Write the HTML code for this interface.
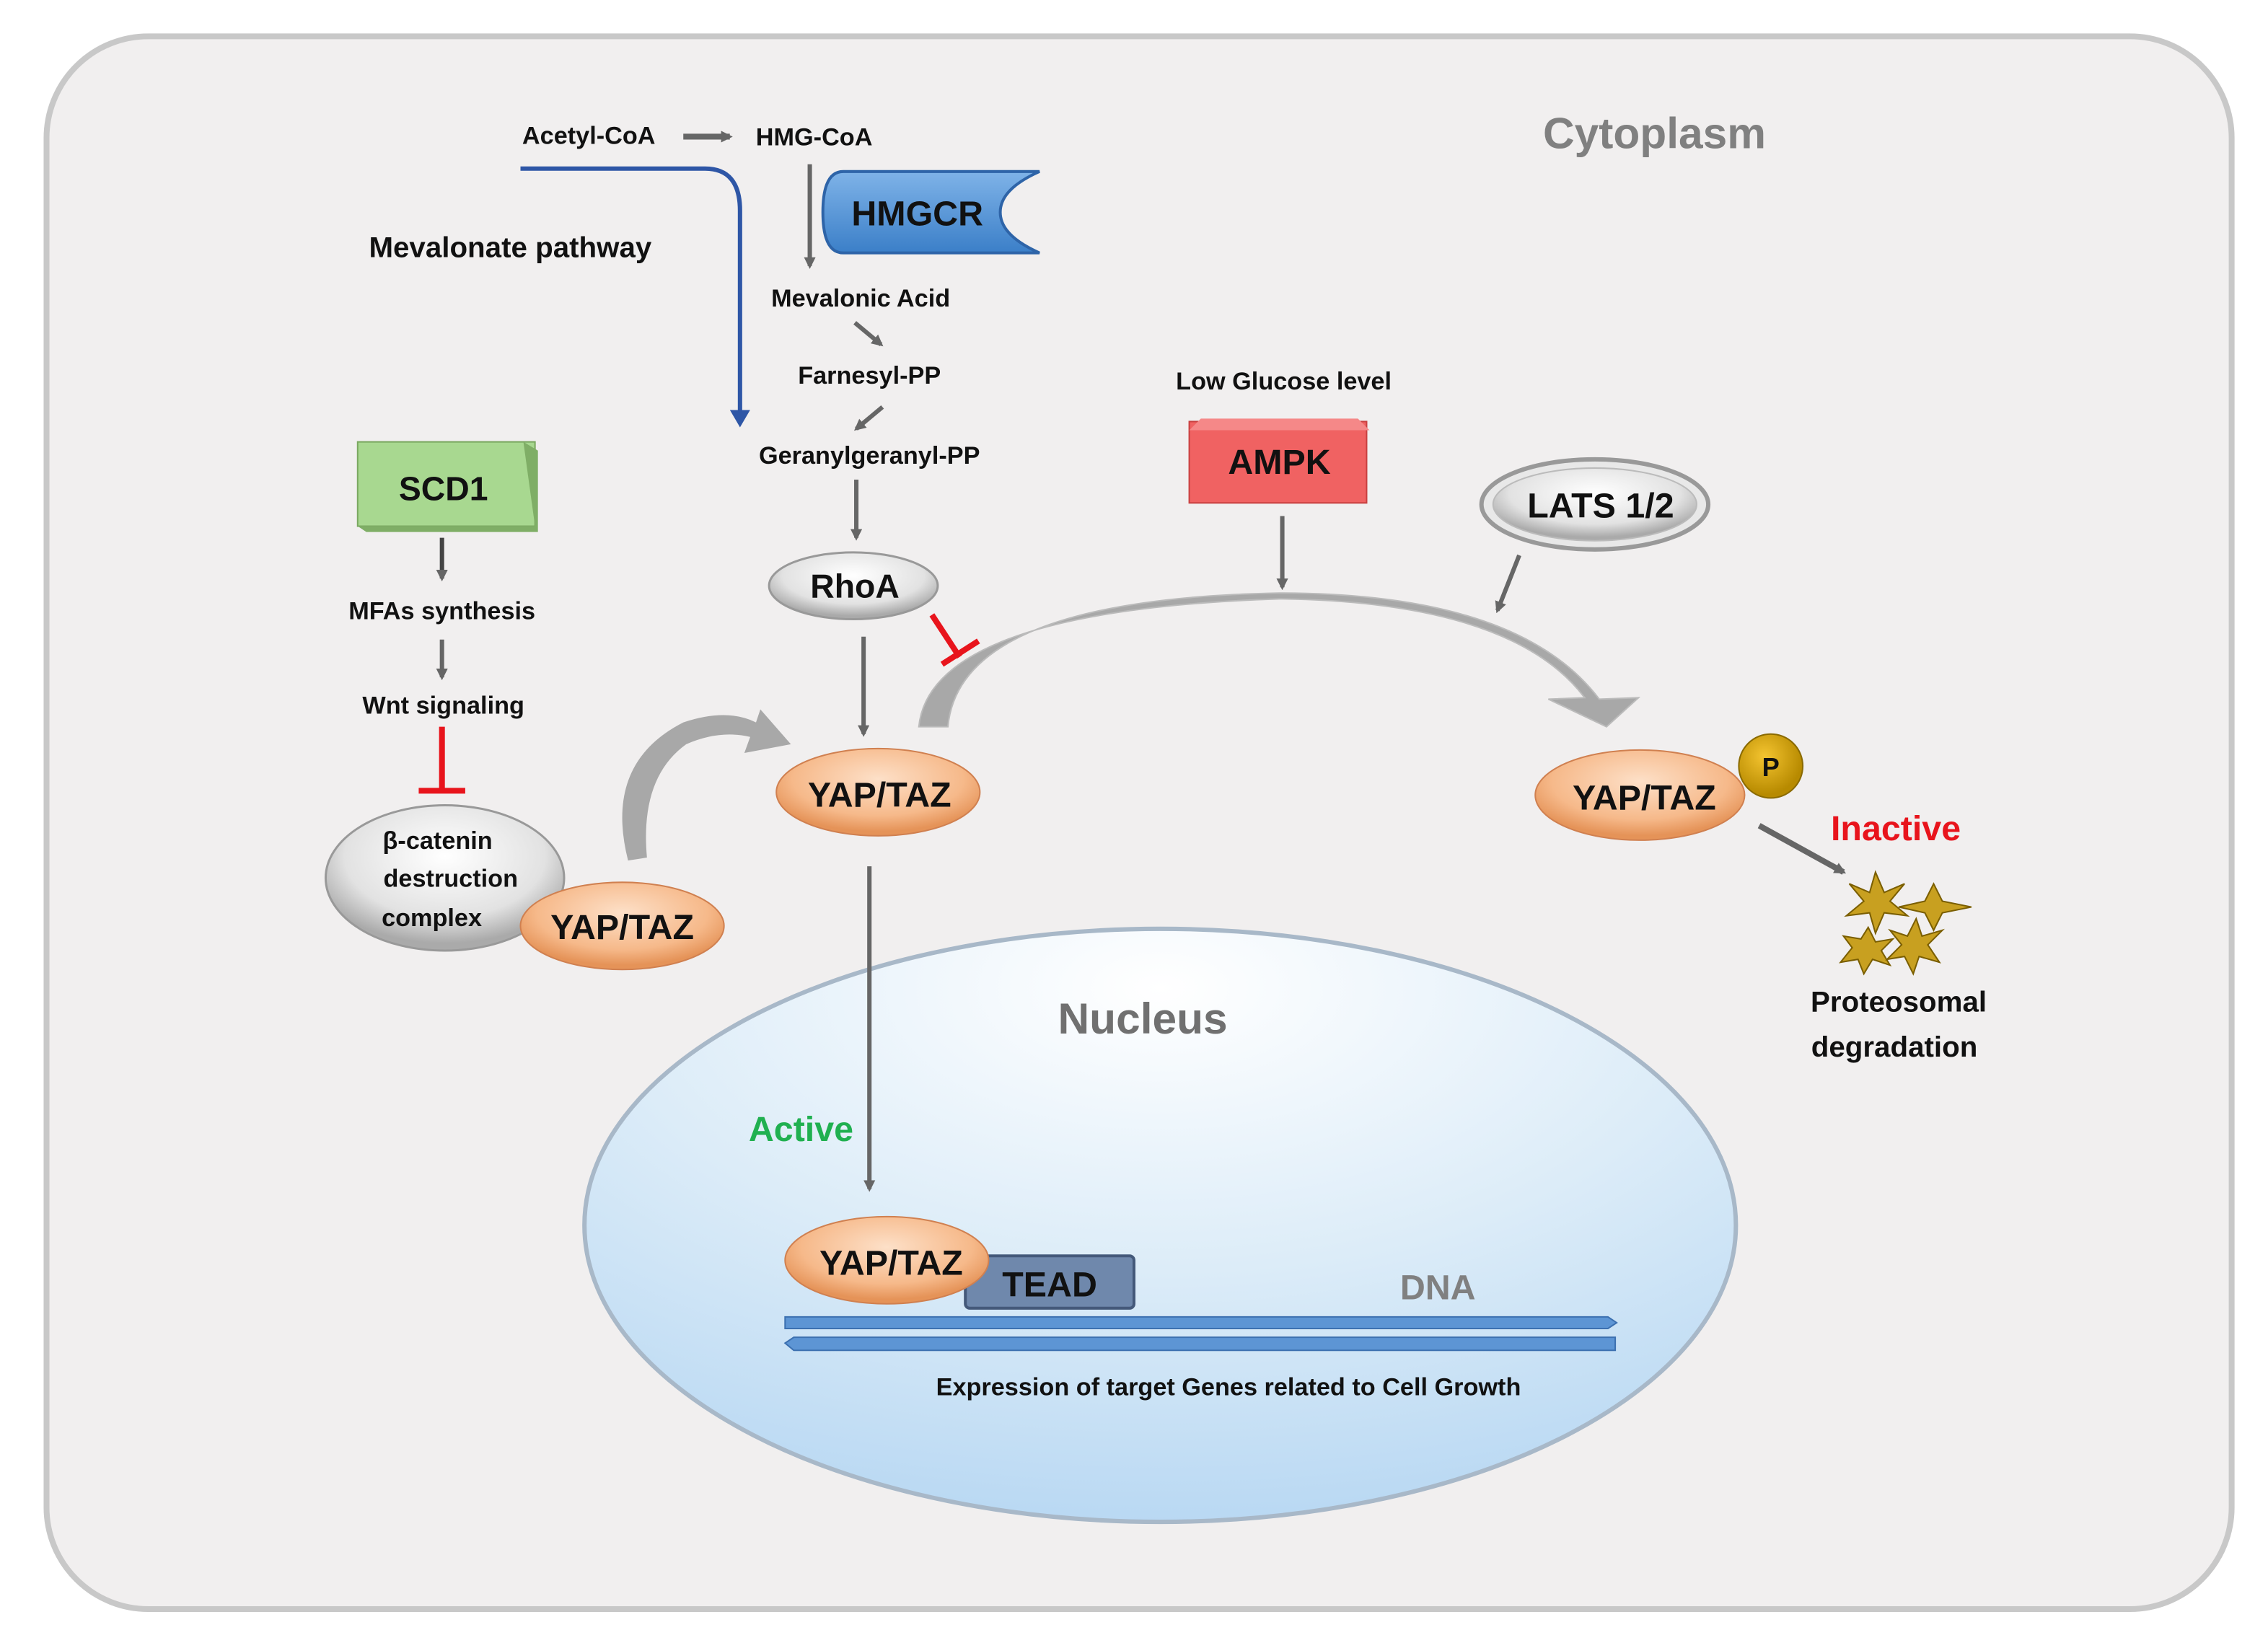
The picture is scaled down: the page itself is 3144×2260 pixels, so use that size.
<!DOCTYPE html>
<html><head><meta charset="utf-8">
<style>html,body{margin:0;padding:0;background:#fff}svg{display:block}
text{font-family:"Liberation Sans",sans-serif;font-weight:bold}</style></head>
<body>
<svg width="3144" height="2260" viewBox="0 0 1560 1121.4" preserveAspectRatio="none" xmlns="http://www.w3.org/2000/svg">
<defs>
<radialGradient id="nuc" cx="0.5" cy="0.1" r="0.95">
<stop offset="0" stop-color="#ffffff"/><stop offset="0.5" stop-color="#dcecf8"/><stop offset="1" stop-color="#b5d6f2"/></radialGradient>
<radialGradient id="yap" cx="0.5" cy="0.35" r="0.6">
<stop offset="0" stop-color="#fde0c8"/><stop offset="0.7" stop-color="#f6b98a"/><stop offset="1" stop-color="#e59358"/></radialGradient>
<radialGradient id="gry" cx="0.5" cy="0.35" r="0.6">
<stop offset="0" stop-color="#ffffff"/><stop offset="0.7" stop-color="#e2e2e2"/><stop offset="1" stop-color="#aaa"/></radialGradient>
<radialGradient id="pball" cx="0.4" cy="0.35" r="0.6">
<stop offset="0" stop-color="#f4c430"/><stop offset="1" stop-color="#b78a00"/></radialGradient>
<linearGradient id="hmg" x1="0" y1="0" x2="0" y2="1"><stop offset="0" stop-color="#7fb3e8"/><stop offset="1" stop-color="#3b7fc8"/></linearGradient>
<marker id="ah" markerWidth="8" markerHeight="8" refX="6" refY="4" orient="auto" markerUnits="userSpaceOnUse"><path d="M0,0 L8,4 L0,8 z" fill="#666"/></marker>
<marker id="ahb" markerWidth="12" markerHeight="14" refX="8" refY="7" orient="auto" markerUnits="userSpaceOnUse"><path d="M0,0 L12,7 L0,14 z" fill="#2e56a6"/></marker>
</defs>
<rect x="0" y="0" width="1560" height="1121.4" fill="#fff"/>
<rect x="32" y="25" width="1503" height="1082" rx="70" fill="#f1efef" stroke="#c8c8c8" stroke-width="4"/>
<text x="1138" y="102" font-size="30" fill="#808080" text-anchor="middle">Cytoplasm</text>

<!-- mevalonate -->
<text x="405" y="99" font-size="17" text-anchor="middle" fill="#111">Acetyl-CoA</text>
<line x1="470" y1="94" x2="502" y2="94" stroke="#666" stroke-width="4" marker-end="url(#ah)"/>
<text x="560" y="100" font-size="17" text-anchor="middle" fill="#111">HMG-CoA</text>
<path d="M358,116 L485,116 Q509,116 509,145 L509,290" fill="none" stroke="#2e56a6" stroke-width="3" marker-end="url(#ahb)"/>
<text x="351" y="177" font-size="20" text-anchor="middle" fill="#111">Mevalonate pathway</text>
<line x1="557" y1="113" x2="557" y2="183" stroke="#666" stroke-width="3" marker-end="url(#ah)"/>
<path d="M580,118 L715,118 Q688,130 688,146 Q688,162 715,174 L580,174 Q566,174 566,146 Q566,118 580,118 z" fill="url(#hmg)" stroke="#2e64a8" stroke-width="2"/>
<text x="631" y="155" font-size="24" text-anchor="middle" fill="#111">HMGCR</text>
<text x="592" y="211" font-size="17" text-anchor="middle" fill="#111">Mevalonic Acid</text>
<line x1="588" y1="222" x2="606" y2="237" stroke="#666" stroke-width="3" marker-end="url(#ah)"/>
<text x="598" y="264" font-size="17" text-anchor="middle" fill="#111">Farnesyl-PP</text>
<line x1="607" y1="280" x2="589" y2="295" stroke="#666" stroke-width="3" marker-end="url(#ah)"/>
<text x="598" y="319" font-size="17" text-anchor="middle" fill="#111">Geranylgeranyl-PP</text>
<line x1="589" y1="330" x2="589" y2="370" stroke="#666" stroke-width="3" marker-end="url(#ah)"/>
<ellipse cx="587" cy="403" rx="58" ry="23" fill="url(#gry)" stroke="#999" stroke-width="1.5"/>
<text x="588" y="411" font-size="23" text-anchor="middle" fill="#111">RhoA</text>
<path d="M641,423 L660,452 M648,457 L673,441" stroke="#e8141c" stroke-width="4" fill="none"/>
<line x1="594" y1="438" x2="594" y2="505" stroke="#666" stroke-width="3" marker-end="url(#ah)"/>

<!-- SCD1 -->
<rect x="246" y="304" width="122" height="58" fill="#a8d890" stroke="#7aa860"/>
<path d="M360,304 L370,310 L370,366 L252,366 L246,362 L368,362 z" fill="#7fae66"/>
<text x="305" y="344" font-size="23" text-anchor="middle" fill="#111">SCD1</text>
<line x1="304" y1="370" x2="304" y2="398" stroke="#444" stroke-width="3" marker-end="url(#ah)"/>
<text x="304" y="426" font-size="17" text-anchor="middle" fill="#111">MFAs synthesis</text>
<line x1="304" y1="440" x2="304" y2="466" stroke="#666" stroke-width="3" marker-end="url(#ah)"/>
<text x="305" y="491" font-size="17" text-anchor="middle" fill="#111">Wnt signaling</text>
<path d="M304,500 L304,544 M288,544 L320,544" stroke="#e8141c" stroke-width="4" fill="none"/>
<ellipse cx="306" cy="604" rx="82" ry="50" fill="url(#gry)" stroke="#999" stroke-width="1.5"/>
<text x="301" y="584" font-size="17" text-anchor="middle" fill="#111">β-catenin</text>
<text x="310" y="610" font-size="17" text-anchor="middle" fill="#111">destruction</text>
<text x="297" y="637" font-size="17" text-anchor="middle" fill="#111">complex</text>
<ellipse cx="428" cy="637" rx="70" ry="30" fill="url(#yap)" stroke="#d08050" stroke-width="1"/>
<text x="428" y="646" font-size="24" text-anchor="middle" fill="#111">YAP/TAZ</text>
<path d="M432,592 Q415,525 470,497 Q500,487 520,497 L523,488 L544,512 L512,518 L516,507 Q495,502 472,512 Q440,535 445,590 z" fill="#a8a8a8"/>

<!-- center YAP -->
<ellipse cx="604" cy="545" rx="70" ry="30" fill="url(#yap)" stroke="#d08050" stroke-width="1"/>
<text x="605" y="555" font-size="24" text-anchor="middle" fill="#111">YAP/TAZ</text>

<!-- big arc -->
<path d="M632,500 Q640,420 880,412 Q1040,414 1090,480 L1065,481 L1105,500 L1127,480 L1100,481 Q1045,408 880,408 Q660,412 652,500 z" fill="#a8a8a8" stroke="#bbb"/>

<!-- AMPK -->
<text x="883" y="268" font-size="17" text-anchor="middle" fill="#111">Low Glucose level</text>
<rect x="818" y="290" width="122" height="56" fill="#f06262" stroke="#c84040"/>
<path d="M826,288 L934,288 L942,296 L818,296 z" fill="#f58888"/>
<text x="880" y="326" font-size="24" text-anchor="middle" fill="#111">AMPK</text>
<line x1="882" y1="355" x2="882" y2="404" stroke="#666" stroke-width="3" marker-end="url(#ah)"/>
<ellipse cx="1097" cy="347" rx="78" ry="31" fill="#e8e8e8" stroke="#999" stroke-width="3"/>
<ellipse cx="1097" cy="347" rx="70" ry="25" fill="url(#gry)" stroke="#bbb" stroke-width="1"/>
<text x="1101" y="356" font-size="24" text-anchor="middle" fill="#111">LATS 1/2</text>
<line x1="1045" y1="382" x2="1030" y2="420" stroke="#666" stroke-width="3" marker-end="url(#ah)"/>

<!-- right YAP -->
<ellipse cx="1128" cy="547" rx="72" ry="31" fill="url(#yap)" stroke="#d08050" stroke-width="1"/>
<text x="1131" y="557" font-size="24" text-anchor="middle" fill="#111">YAP/TAZ</text>
<circle cx="1218" cy="527" r="22" fill="url(#pball)" stroke="#8a6a00"/>
<text x="1218" y="534" font-size="18" text-anchor="middle" fill="#111">P</text>
<text x="1304" y="578" font-size="24" text-anchor="middle" fill="#e8141c">Inactive</text>
<line x1="1210" y1="568" x2="1268" y2="600" stroke="#666" stroke-width="4" marker-end="url(#ah)"/>
<g fill="#c8a020" stroke="#7a5e00" stroke-width="1">
<polygon points="1290,600 1296,614 1310,608 1300,620 1312,630 1296,628 1290,642 1286,628 1270,630 1282,620 1272,608 1286,614"/>
<polygon points="1330,608 1336,620 1356,624 1336,628 1330,640 1324,628 1306,624 1324,620"/>
<polygon points="1285,638 1290,648 1302,646 1294,654 1300,664 1288,660 1282,670 1278,660 1266,662 1274,652 1268,644 1280,646"/>
<polygon points="1318,632 1322,644 1336,640 1326,650 1334,662 1320,658 1316,670 1310,658 1298,660 1308,650 1300,640 1312,644"/>
</g>
<text x="1306" y="696" font-size="20" text-anchor="middle" fill="#111">Proteosomal</text>
<text x="1303" y="727" font-size="20" text-anchor="middle" fill="#111">degradation</text>

<!-- nucleus -->
<ellipse cx="798" cy="843" rx="396" ry="204" fill="url(#nuc)" stroke="#a8b8c8" stroke-width="3"/>
<line x1="598" y1="596" x2="598" y2="818" stroke="#666" stroke-width="3" marker-end="url(#ah)"/>
<text x="786" y="711" font-size="30" text-anchor="middle" fill="#707070">Nucleus</text>
<text x="551" y="785" font-size="24" text-anchor="middle" fill="#20b050">Active</text>
<rect x="664" y="864" width="116" height="36" rx="3" fill="#6f88ac" stroke="#44597a" stroke-width="2"/>
<text x="722" y="892" font-size="24" text-anchor="middle" fill="#111">TEAD</text>
<ellipse cx="610" cy="867" rx="70" ry="30" fill="url(#yap)" stroke="#d08050" stroke-width="1"/>
<text x="613" y="877" font-size="24" text-anchor="middle" fill="#111">YAP/TAZ</text>
<text x="989" y="894" font-size="24" text-anchor="middle" fill="#808080">DNA</text>
<path d="M540,906 L1106,906 L1112,910 L1106,914 L540,914 z" fill="#5d95d4" stroke="#3c70b0"/>
<path d="M546,920 L1111,920 L1111,929 L546,929 L540,924 z" fill="#5d95d4" stroke="#3c70b0"/>
<text x="845" y="960" font-size="17" text-anchor="middle" fill="#111">Expression of target Genes related to Cell Growth</text>
</svg>
</body></html>
